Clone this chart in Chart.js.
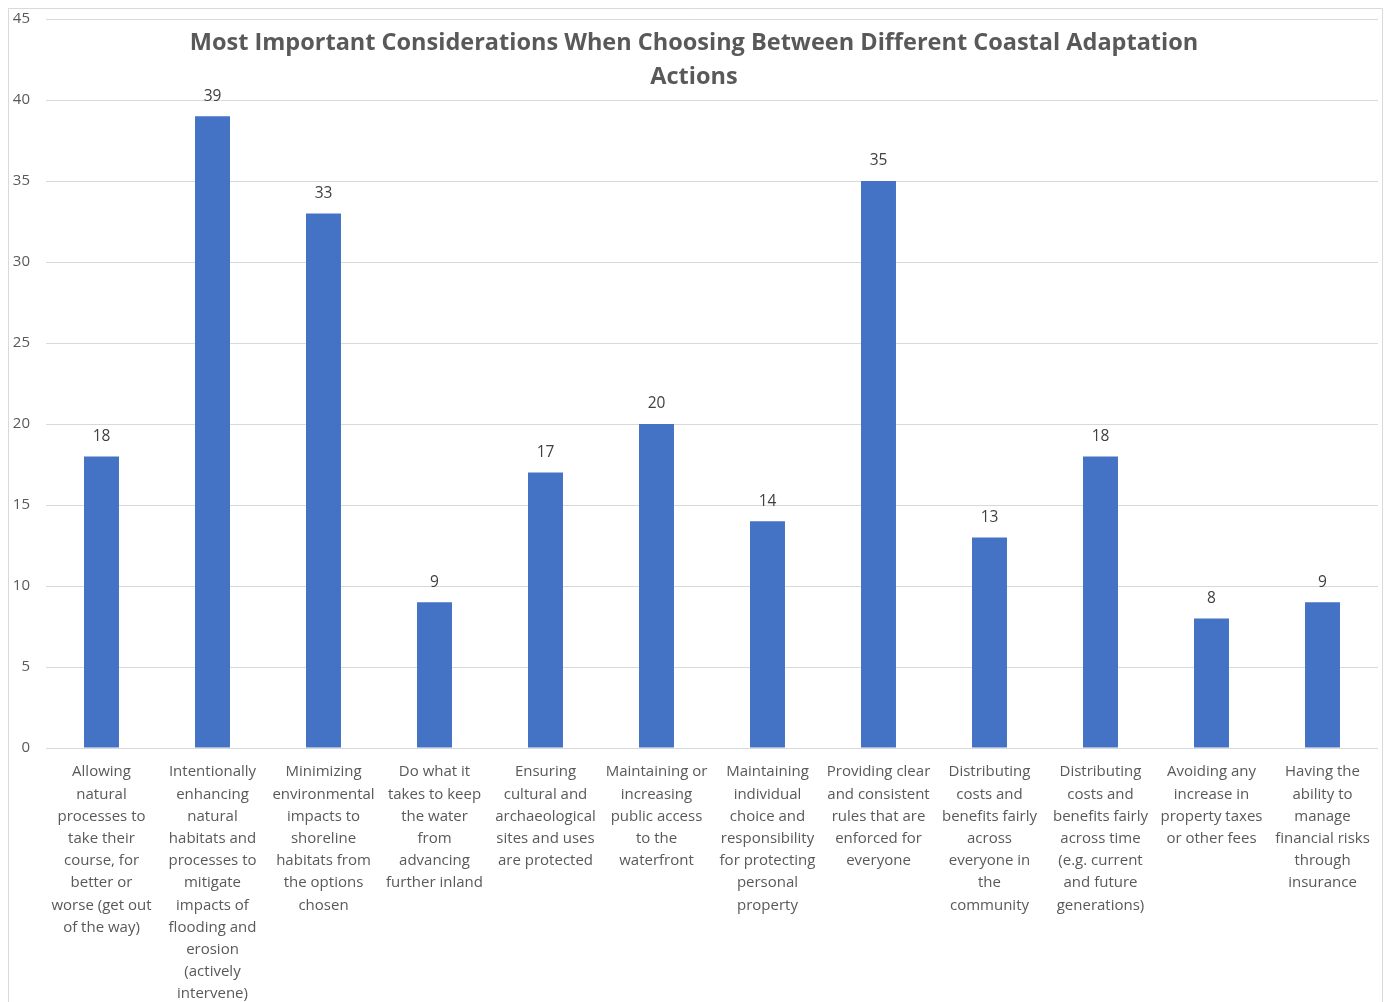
<!DOCTYPE html>
<html><head><meta charset="utf-8">
<script src="https://cdn.jsdelivr.net/npm/chart.js@4/dist/chart.umd.min.js"></script>
<style>html,body{margin:0;padding:0;background:#fff;overflow:hidden}#wrap{width:1385px;height:1002px;position:relative}</style>
</head><body><div id="wrap"><canvas id="c" width="1385" height="1002"></canvas></div>
<script>
const titleLines = ["Most Important Considerations When Choosing Between Different Coastal Adaptation", "Actions"];
const categories = [
  ["Allowing","natural","processes to","take their","course, for","better or","worse (get out","of the way)"],
  ["Intentionally","enhancing","natural","habitats and","processes to","mitigate","impacts of","flooding and","erosion","(actively","intervene)"],
  ["Minimizing","environmental","impacts to","shoreline","habitats from","the options","chosen"],
  ["Do what it","takes to keep","the water","from","advancing","further inland"],
  ["Ensuring","cultural and","archaeological","sites and uses","are protected"],
  ["Maintaining or","increasing","public access","to the","waterfront"],
  ["Maintaining","individual","choice and","responsibility","for protecting","personal","property"],
  ["Providing clear","and consistent","rules that are","enforced for","everyone"],
  ["Distributing","costs and","benefits fairly","across","everyone in","the","community"],
  ["Distributing","costs and","benefits fairly","across time","(e.g. current","and future","generations)"],
  ["Avoiding any","increase in","property taxes","or other fees"],
  ["Having the","ability to","manage","financial risks","through","insurance"]
];
const counts = [18, 39, 33, 9, 17, 20, 14, 35, 13, 18, 8, 9];
const yTicks = [0, 5, 10, 15, 20, 25, 30, 35, 40, 45];

const FONT = "'Open Sans', sans-serif";

const frame = {
  id: 'frame',
  beforeDraw(chart) {
    const ctx = chart.ctx;
    ctx.save();
    ctx.strokeStyle = '#d9d9d9';
    ctx.lineWidth = 1;
    ctx.beginPath();
    ctx.moveTo(8.5, 1002);
    ctx.lineTo(8.5, 8.5);
    ctx.lineTo(1382.5, 8.5);
    ctx.lineTo(1382.5, 1002);
    ctx.stroke();
    ctx.restore();
  },
  afterDraw(chart) {
    const ctx = chart.ctx;
    ctx.save();
    ctx.fillStyle = '#595959';
    ctx.font = "bold 23.5px " + FONT;
    ctx.textAlign = 'center';
    ctx.textBaseline = 'middle';
    titleLines.forEach((t, i) => ctx.fillText(t, 694, 43 + i * 34));
    const meta = chart.getDatasetMeta(0);
    ctx.font = "15.5px " + FONT;
    ctx.fillStyle = '#404040';
    meta.data.forEach((bar, i) => {
      ctx.fillText(String(chart.data.datasets[0].data[i]), bar.x, bar.y - 20);
    });
    ctx.restore();
  }
};

new Chart(document.getElementById('c'), {
  type: 'bar',
  data: {
    labels: categories,
    datasets: [{ data: counts, backgroundColor: '#4472c4', barPercentage: 0.315, categoryPercentage: 1 }]
  },
  options: {
    responsive: false,
    animation: false,
    devicePixelRatio: 1,
    layout: { padding: { top: 19, right: 7, left: 0, bottom: 0 } },
    plugins: { legend: { display: false }, title: { display: false }, tooltip: { enabled: false } },
    scales: {
      x: {
        grid: { display: false, drawTicks: false },
        border: { display: false },
        ticks: { color: '#595959', font: { family: FONT, size: 15, lineHeight: 1.48 }, padding: 13, maxRotation: 0, minRotation: 0, autoSkip: false },
        afterFit(s) { s.height = 254; s.paddingLeft = 0; s.paddingRight = 0; }
      },
      y: {
        min: 0, max: 45,
        afterBuildTicks(s) { s.ticks = yTicks.map(v => ({ value: v })); },
        grid: { color: '#d9d9d9', lineWidth: 1, drawTicks: false },
        border: { display: false },
        ticks: { color: '#595959', font: { family: FONT, size: 15 }, padding: 16 },
        afterFit(s) { s.width = 46; s.paddingTop = 0; s.paddingBottom = 0; }
      }
    }
  },
  plugins: [frame]
});
</script></body></html>
